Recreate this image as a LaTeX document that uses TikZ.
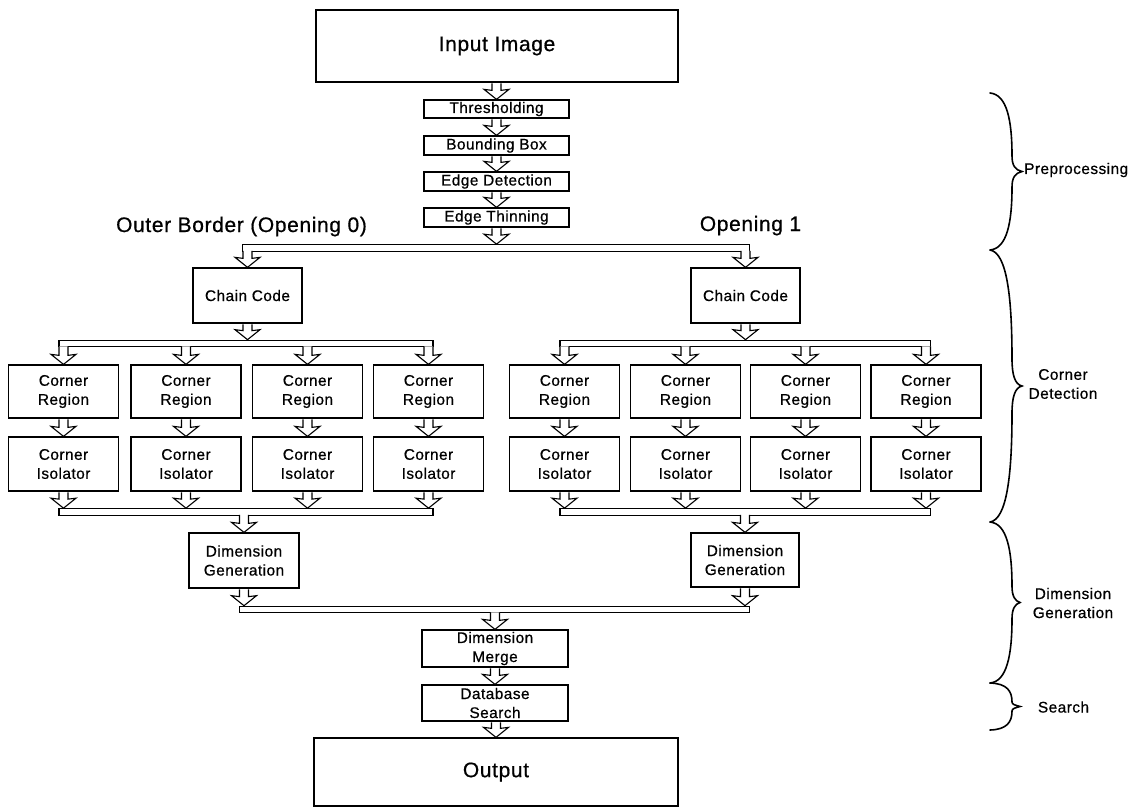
\documentclass[tikz,border=0pt]{standalone}
\usepackage{fontspec}
\setmainfont{Liberation Sans}[FakeBold=0.6,LetterSpace=3]
\usetikzlibrary{calc}
\newcommand{\mfont}{\fontsize{15.4pt}{19pt}\selectfont}
\newcommand{\lfont}{\fontsize{21pt}{26pt}\selectfont}
% block arrow: #1 start offset, #2 start coordinate, #3 end coordinate (x taken from end)
\newcommand{\barrow}[3][-0.7pt]{%
  \draw[arr] let \p1=#2, \p2=#3 in
    (\x2-4.5pt,\y1+#1) -- (\x2-4.5pt,\y2+9pt) -- (\x2-12.5pt,\y2+10pt) -- (\x2,\y2)
    -- (\x2+12.5pt,\y2+10pt) -- (\x2+4.5pt,\y2+9pt) -- (\x2+4.5pt,\y1+#1);}
% curly brace on the right: #1 top y, #2 bottom y, #3 tip x
\newcommand{\sidebrace}[3]{%
  \pgfmathsetmacro{\ym}{(#1+#2)/2}%
  \pgfmathsetmacro{\hh}{(#2-#1)/2}%
  \draw[brc] (990,#1) .. controls (1007,#1+0.02*\hh) and (1012,#1+0.35*\hh) .. (1012,#1+0.8*\hh)
    .. controls (1012,\ym-0.08*\hh) and (1015,\ym-1.5) .. (#3,\ym)
    .. controls (1015,\ym+1.5) and (1012,\ym+0.08*\hh) .. (1012,#2-0.8*\hh)
    .. controls (1012,#2-0.35*\hh) and (1007,#2-0.02*\hh) .. (990,#2);}
\begin{document}
\begin{tikzpicture}[x=1pt,y=-1pt,
  box/.style={draw,line width=1.3pt,fill=white,inner sep=0pt,align=center,font=\mfont},
  bigbox/.style={box,font=\lfont},
  bus/.style={draw,line width=1.2pt,fill=white,inner sep=0pt,minimum height=6.5pt},
  arr/.style={draw,fill=white,line width=1.1pt,line join=miter},
  brc/.style={draw,line width=1.6pt,line cap=round},
  lbl/.style={inner sep=0pt,align=center,font=\mfont},
  ttl/.style={inner sep=0pt,font=\lfont,anchor=base}]
\useasboundingbox[fill=white] (0,0) rectangle (1140,809);

% buses
\node[bus,minimum width=507pt] (bus1) at (496,248) {};
\node[bus,minimum width=374pt] (bus2L) at (246,343.5) {};
\node[bus,minimum width=370.5pt] (bus2R) at (745.25,343.5) {};
\node[bus,minimum width=374pt] (bus3L) at (246,512) {};
\node[bus,minimum width=370.5pt] (bus3R) at (745.25,512) {};
\node[bus,minimum width=510pt] (bus4) at (494.5,609.5) {};

% preprocessing column
\node[bigbox,minimum width=362pt,minimum height=72pt] (inimg) at (497,46) {Input Image};
\node[box,minimum width=145pt,minimum height=18pt] (thr) at (496.5,109) {Thresholding};
\node[box,minimum width=145pt,minimum height=19pt] (bbx) at (496.5,145.5) {Bounding Box};
\node[box,minimum width=145pt,minimum height=19pt] (edt) at (496.5,181.5) {Edge Detection};
\node[box,minimum width=145pt,minimum height=19pt] (eth) at (496.5,217.5) {Edge Thinning};

\node[ttl] (t0) at (241.5,232) {Outer Border (Opening 0)};
\node[ttl] (t1) at (750.5,231) {Opening 1};

% chain codes
\node[box,minimum width=109pt,minimum height=55pt] (ccL) at (247.5,295.5) {Chain Code};
\node[box,minimum width=109pt,minimum height=55pt] (ccR) at (745.5,295.5) {Chain Code};

% corner regions / isolators
\foreach \k/\x in {1/63.5,2/186,3/307.5,4/428.5,5/564.5,6/685.5,7/805.5,8/926}{
  \node[box,minimum width=110pt,minimum height=53pt] (cr\k) at (\x,391.5) {Corner\\Region};
  \node[box,minimum width=110pt,minimum height=54pt] (ci\k) at (\x,464) {Corner\\Isolator};
}

% dimension generation
\node[box,minimum width=110pt,minimum height=55pt] (dgL) at (244,560.5) {Dimension\\Generation};
\node[box,minimum width=108pt,minimum height=54pt] (dgR) at (745,560) {Dimension\\Generation};

\node[box,minimum width=146pt,minimum height=37pt] (mrg) at (495,648.5) {Dimension\\Merge};
\node[box,minimum width=146pt,minimum height=36pt] (dbs) at (495,703) {Database\\Search};
\node[bigbox,minimum width=364pt,minimum height=68pt] (out) at (496,772) {Output};

% arrows
\barrow{(inimg.south)}{(thr.north)}
\barrow{(thr.south)}{(bbx.north)}
\barrow{(bbx.south)}{(edt.north)}
\barrow{(edt.south)}{(eth.north)}
\barrow{(eth.south)}{(eth.south |- bus1.north)}
\barrow[1pt]{(ccL.north |- bus1.south)}{(ccL.north)}
\barrow[1pt]{(ccR.north |- bus1.south)}{(ccR.north)}
\barrow{(ccL.south)}{(ccL.south |- bus2L.north)}
\barrow{(ccR.south)}{(ccR.south |- bus2R.north)}
\foreach \k in {1,2,3,4}{
  \barrow[1pt]{(cr\k.north |- bus2L.south)}{(cr\k.north)}
  \barrow{(cr\k.south)}{(ci\k.north)}
  \barrow{(ci\k.south)}{(ci\k.south |- bus3L.north)}
}
\foreach \k in {5,6,7,8}{
  \barrow[1pt]{(cr\k.north |- bus2R.south)}{(cr\k.north)}
  \barrow{(cr\k.south)}{(ci\k.north)}
  \barrow{(ci\k.south)}{(ci\k.south |- bus3R.north)}
}
\barrow[1pt]{(dgL.north |- bus3L.south)}{(dgL.north)}
\barrow[1pt]{(dgR.north |- bus3R.south)}{(dgR.north)}
\barrow{(dgL.south)}{(dgL.south |- bus4.north)}
\barrow{(dgR.south)}{(dgR.south |- bus4.north)}
\barrow[1pt]{(mrg.north |- bus4.south)}{(mrg.north)}
\barrow{(mrg.south)}{(dbs.north)}
\barrow{(dbs.south)}{(out.north)}

% braces and stage labels
\sidebrace{93}{250}{1022}
\sidebrace{250}{522}{1022}
\sidebrace{522}{683}{1020}
\sidebrace{683}{730}{1020}
\node[lbl,anchor=west] (lp) at (1024,170) {Preprocessing};
\node[lbl] (lc) at (1063,384) {Corner\\Detection};
\node[lbl] (ld) at (1073,603) {Dimension\\Generation};
\node[lbl] (ls) at (1063.5,707) {Search};
\end{tikzpicture}
\end{document}
